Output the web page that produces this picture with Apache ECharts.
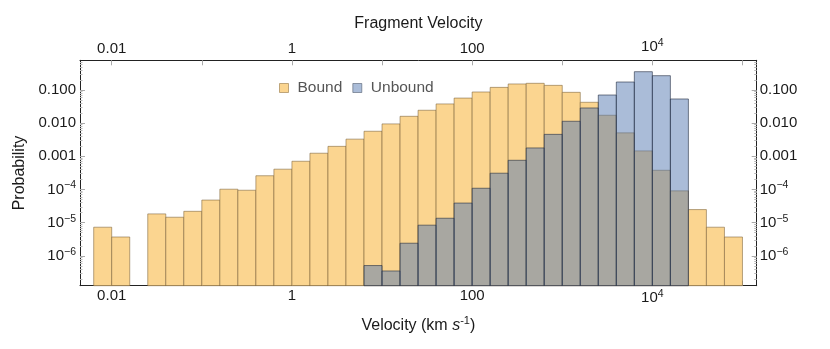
<!DOCTYPE html>
<html>
<head>
<meta charset="utf-8">
<script src="https://cdn.jsdelivr.net/npm/echarts@6/dist/echarts.min.js"></script>
<style>
  html, body { margin: 0; padding: 0; background: #fff; }
  #chart { width: 830px; height: 349px; }
</style>
</head>
<body>
<div id="chart"></div>
<script>
// lower edge of each bin, log10(km/s)
const binEdges = [-2.2, -2.0, -1.8, -1.6, -1.4, -1.2, -1.0, -0.8, -0.6, -0.4, -0.2, 0.0,
  0.2, 0.4, 0.6, 0.8, 1.0, 1.2, 1.4, 1.6, 1.8, 2.0, 2.2, 2.4, 2.6, 2.8, 3.0, 3.2, 3.4,
  3.6, 3.8, 4.0, 4.2, 4.4, 4.6, 4.8]
const binWidth = 0.2

const bound = [7.3e-6, 3.7e-6, null, 1.84e-5, 1.46e-5, 2.2e-5, 4.8e-5, 1.02e-4, 9.5e-5,
  2.6e-4, 4.1e-4, 7.1e-4, 1.24e-3, 2.0e-3, 3.3e-3, 5.7e-3, 9.5e-3, 0.0161, 0.0245, 0.038,
  0.057, 0.087, 0.120, 0.152, 0.159, 0.138, 0.085, 0.0426, 0.0173, 5.1e-3, 1.46e-3, 3.8e-4,
  9.1e-5, 2.48e-5, 7.3e-6, 3.7e-6]

const unbound = [null, null, null, null, null, null, null, null, null, null, null, null,
  null, null, null, 5.1e-7, 3.5e-7, 2.4e-6, 8.4e-6, 1.36e-5, 3.9e-5, 1.09e-4, 3.1e-4,
  7.6e-4, 1.79e-3, 4.6e-3, 0.0114, 0.0287, 0.0706, 0.174, 0.356, 0.270, 0.0536,
  null, null, null]

// axis ticks (log10) and their labels
const xTickExps = [-2, -1, 0, 1, 2, 3, 4, 5]
const xLabelExps = [-2, 0, 2, 4]
const xLabelText = ['0.01', '1', '100', '10^4']
const yTickExps = [-6, -5, -4, -3, -2, -1]
const yLabelText = ['10^\u22126', '10^\u22125', '10^\u22124', '0.001', '0.010', '0.100']

const X_MIN = -2.352, X_MAX = 5.158
const Y_MIN = -6.9, Y_MAX = -0.105

const yMinorTicks = []
for (let n = -7; n <= -1; n++) {
  for (let k = 2; k <= 9; k++) {
    const e = n + Math.log10(k)
    if (e > Y_MIN && e < Y_MAX) yMinorTicks.push(e)
  }
}

function sup(t) {
  const p = t.split('^')
  return p.length > 1 ? '{b|' + p[0] + '}{s|' + p[1] + '}' : '{b|' + t + '}'
}
function labelFor(exps, texts) {
  return function (v) {
    for (let i = 0; i < exps.length; i++) {
      if (Math.abs(exps[i] - v) < 1e-6) return sup(texts[i])
    }
    return ''
  }
}

const FONT = '"Liberation Sans", Arial, sans-serif'
const rich = {
  b: { fontSize: 15, fontFamily: FONT, color: '#1a1a1a' },
  s: { fontSize: 10.5, fontFamily: FONT, color: '#1a1a1a', padding: [0, 0, 8, 0] }
}

function toBars(values) {
  const out = []
  values.forEach((v, i) => {
    if (v != null) out.push([binEdges[i], binEdges[i] + binWidth, Math.log10(v)])
  })
  return out
}

function makeRender(fill, stroke) {
  return function (params, api) {
    const top = api.coord([api.value(0), api.value(2)])
    const base = api.coord([api.value(1), Y_MIN])
    return {
      type: 'rect',
      shape: { x: top[0], y: top[1], width: base[0] - top[0], height: base[1] - top[1] },
      style: { fill: fill, stroke: stroke, lineWidth: 1 }
    }
  }
}

const boundFill = 'rgb(251,213,144)'
const unboundFill = 'rgba(85,121,177,0.5)'

const axisLine = { show: true, onZero: false, lineStyle: { color: '#222', width: 1 } }
const majorTick = { show: true, inside: true, length: 5, lineStyle: { color: '#aaa' } }
const minorTickStyle = { show: true, inside: true, length: 2.5, lineStyle: { color: '#bbb' } }

function xAxis(pos, withLabels, name, gap) {
  return {
    type: 'value', position: pos, min: X_MIN, max: X_MAX,
    axisLine: axisLine,
    axisTick: Object.assign({ customValues: xTickExps }, majorTick),
    axisLabel: {
      show: withLabels, customValues: xLabelExps, margin: pos === 'top' ? 4 : 3,
      formatter: labelFor(xLabelExps, xLabelText), rich: rich
    },
    splitLine: { show: false },
    name: name, nameLocation: 'middle', nameGap: gap,
    nameTextStyle: {
      fontSize: 16, fontFamily: FONT, color: '#1a1a1a',
      rich: {
        n: { fontSize: 16, fontFamily: FONT, color: '#1a1a1a' },
        i: { fontSize: 16, fontFamily: FONT, color: '#1a1a1a', fontStyle: 'italic' },
        s: { fontSize: 11, fontFamily: FONT, color: '#1a1a1a', padding: [0, 0, 9, 0] }
      }
    }
  }
}

function yAxis(pos, minor, name) {
  return {
    type: 'value', position: pos, min: Y_MIN, max: Y_MAX,
    axisLine: minor ? { show: false, onZero: false } : axisLine,
    axisTick: Object.assign({ customValues: minor ? yMinorTicks : yTickExps }, minor ? minorTickStyle : majorTick),
    axisLabel: {
      show: !minor, customValues: yTickExps, margin: pos === 'left' ? 4 : 3,
      formatter: labelFor(yTickExps, yLabelText), rich: rich
    },
    splitLine: { show: false },
    name: name, nameLocation: 'middle', nameGap: 49,
    nameTextStyle: { fontSize: 16, fontFamily: FONT, color: '#1a1a1a' }
  }
}

const chart = echarts.init(document.getElementById('chart'))
chart.setOption({
  animation: false,
  grid: { left: 80, right: 73.3, top: 60.3, bottom: 63.3 },
  legend: {
    left: 274, top: 75, itemWidth: 9, itemHeight: 9, itemGap: 10, icon: 'rect',
    textStyle: { fontSize: 15.5, fontFamily: FONT, color: '#555', padding: [0, 0, 0, 4] },
    data: [
      { name: 'Bound', itemStyle: { color: boundFill, borderColor: 'rgba(150,120,70,0.6)', borderWidth: 1 } },
      { name: 'Unbound', itemStyle: { color: unboundFill, borderColor: 'rgba(60,70,90,0.5)', borderWidth: 1 } }
    ]
  },
  xAxis: [
    xAxis('bottom', true, 'Velocity (km {i|s}{s|-1})', 30),
    xAxis('top', true, 'Fragment Velocity', 29)
  ],
  yAxis: [
    yAxis('left', false, 'Probability'),
    yAxis('right', false, ''),
    yAxis('left', true, ''),
    yAxis('right', true, '')
  ],
  series: [
    {
      name: 'Bound', type: 'custom', xAxisIndex: 0, yAxisIndex: 0,
      itemStyle: { color: boundFill },
      encode: { x: [0, 1], y: 2 },
      renderItem: makeRender(boundFill, 'rgba(120,95,55,0.55)'),
      data: toBars(bound)
    },
    {
      name: 'Unbound', type: 'custom', xAxisIndex: 0, yAxisIndex: 0,
      itemStyle: { color: unboundFill },
      encode: { x: [0, 1], y: 2 },
      renderItem: makeRender(unboundFill, 'rgba(35,45,65,0.6)'),
      data: toBars(unbound)
    }
  ]
})
</script>
</body>
</html>
